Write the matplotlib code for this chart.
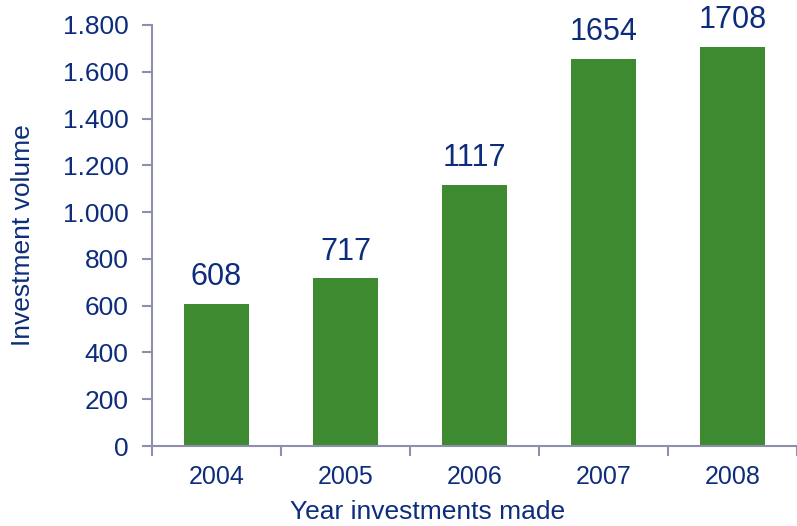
import matplotlib.pyplot as plt
from matplotlib.ticker import FuncFormatter, FixedLocator

plt.rcParams['font.family'] = ['Liberation Sans', 'DejaVu Sans']

years = ['2004', '2005', '2006', '2007', '2008']
volumes = [608, 717, 1117, 1654, 1708]

bar_green = '#3e8a31'
text_blue = '#0d2d7c'
axis_grey = '#8c90ad'

fig = plt.figure(figsize=(7.97, 5.26), dpi=100)
ax = fig.add_axes([0.1907, 0.152, 0.8093, 0.8005])

x = range(len(years))
ax.bar(x, volumes, width=0.5, color=bar_green)
for xi, v in zip(x, volumes):
    ax.text(xi, v + 50, str(v), ha='center', va='bottom', fontsize=22, color=text_blue)

ax.set_xlim(-0.5, len(years) - 0.5)
ax.set_ylim(0, 1800)
ax.set_yticks(range(0, 1801, 200))
ax.yaxis.set_major_formatter(FuncFormatter(lambda v, p: f'{int(v):,}'.replace(',', '.')))

ax.set_xticks(list(x))
ax.set_xticklabels(years)
ax.xaxis.set_minor_locator(FixedLocator([i - 0.5 for i in range(len(years) + 1)]))
ax.tick_params(axis='x', which='major', length=0, pad=14, labelsize=18, labelcolor=text_blue)
ax.tick_params(axis='x', which='minor', length=7, width=1.5, color=axis_grey)
ax.tick_params(axis='y', length=7, width=1.5, color=axis_grey, labelsize=19,
               labelcolor=text_blue, pad=10)

for side in ['top', 'right']:
    ax.spines[side].set_visible(False)
for side in ['left', 'bottom']:
    ax.spines[side].set_color(axis_grey)
    ax.spines[side].set_linewidth(1.5)

ax.set_xlabel('Year investments made', fontsize=19, color=text_blue)
ax.xaxis.set_label_coords(0.427, -0.128)
ax.set_ylabel('Investment volume', fontsize=19, color=text_blue, labelpad=20)

fig.savefig('out.png', dpi=100)
